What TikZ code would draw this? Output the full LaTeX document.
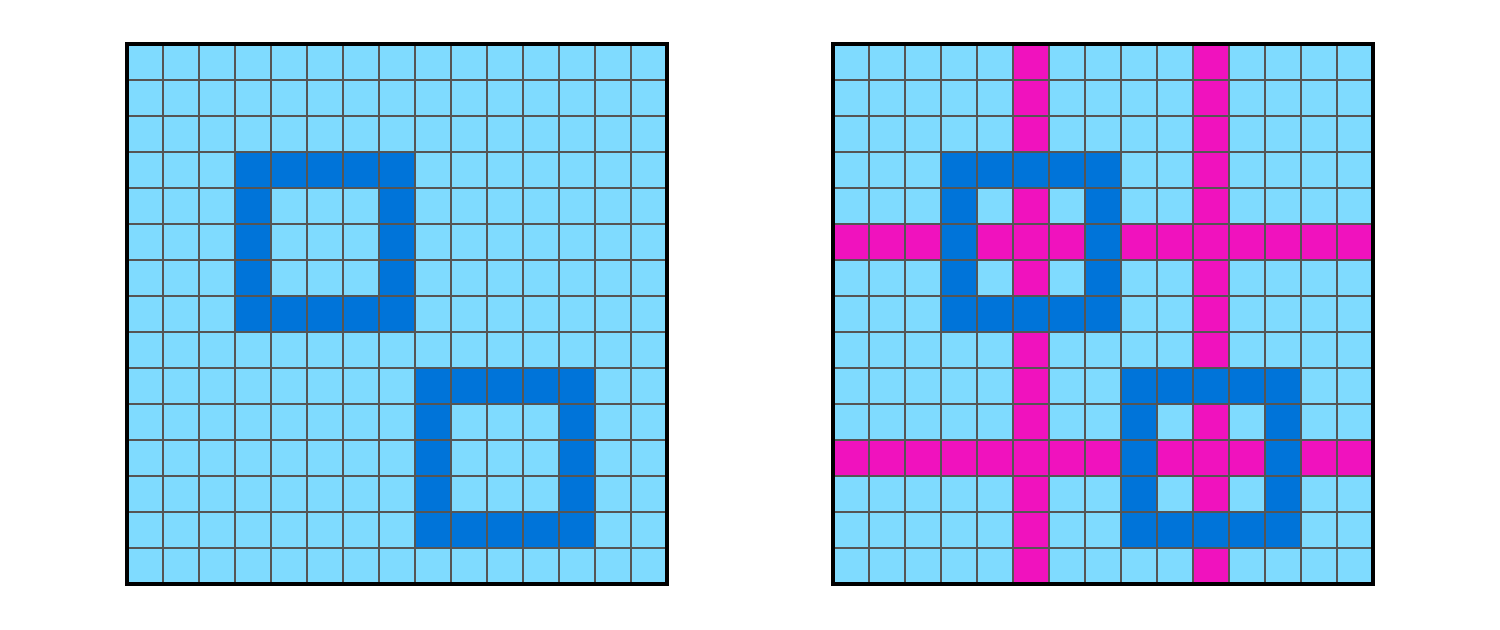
\documentclass[tikz,border=0pt]{standalone}
\definecolor{lb}{HTML}{7FDBFF}
\definecolor{db}{HTML}{0074D9}
\definecolor{mg}{HTML}{F012BE}
\definecolor{gl}{HTML}{555555}
\tikzset{
  gridline/.style={gl, line width=0.6pt},
  frame/.style={black, line width=1.2pt},
}
\newcommand{\paintcell}[3]{\fill[#3] ({(#1)*36},{(#2)*36}) rectangle ++(36,36);}
\newcommand{\ringsq}[2]{%
  \foreach \i in {0,...,4}{\foreach \j in {0,...,4}{%
    \pgfmathtruncatemacro{\edge}{(\i==0)||(\i==4)||(\j==0)||(\j==4)}%
    \pgfmathtruncatemacro{\cc}{#1+\i}%
    \pgfmathtruncatemacro{\rr}{#2+\j}%
    \ifnum\edge=1 \paintcell{\cc}{\rr}{db}\fi}}}
\newcommand{\gridlines}{%
  \foreach \k in {1,...,14}{\draw[gridline] (\k*36,0) -- (\k*36,540); \draw[gridline] (0,\k*36) -- (540,\k*36);}%
  \draw[frame] (0,0) rectangle (540,540);}
\begin{document}
\begin{tikzpicture}[x=0.01cm,y=-0.01cm]
\useasboundingbox (0,0) rectangle (1500,629);
% left grid
\begin{scope}[shift={(127,44)}]
  \fill[lb] (0,0) rectangle (540,540);
  \ringsq{3}{3}
  \ringsq{8}{9}
  \gridlines
\end{scope}
% right grid
\begin{scope}[shift={(833,44)}]
  \fill[lb] (0,0) rectangle (540,540);
  \fill[mg] (5*36,0) rectangle (6*36,540);
  \fill[mg] (10*36,0) rectangle (11*36,540);
  \fill[mg] (0,5*36) rectangle (540,6*36);
  \fill[mg] (0,11*36) rectangle (540,12*36);
  \ringsq{3}{3}
  \ringsq{8}{9}
  \gridlines
\end{scope}
\end{tikzpicture}
\end{document}
